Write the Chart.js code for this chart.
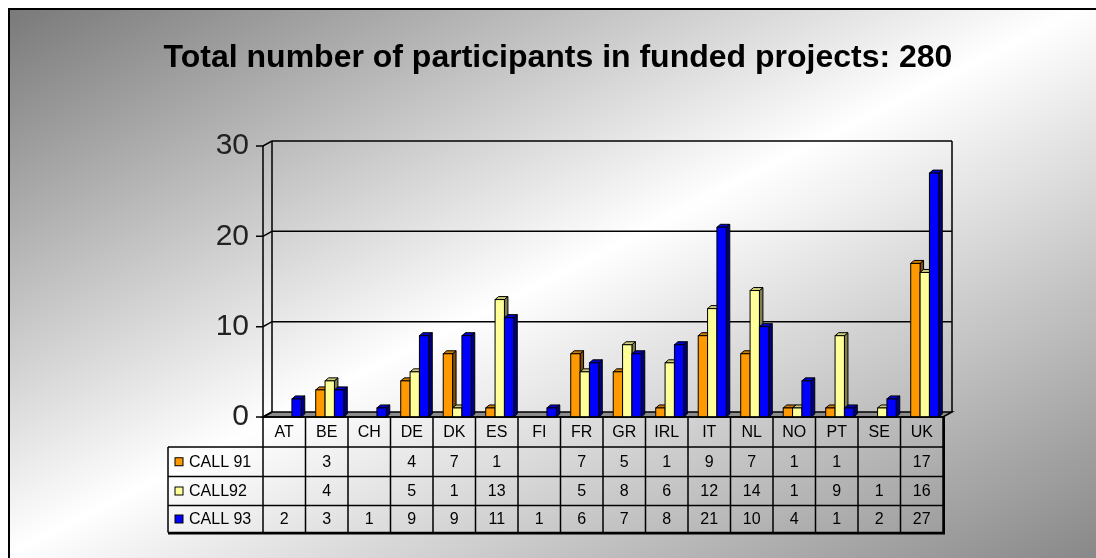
<!DOCTYPE html>
<html><head><meta charset="utf-8">
<script src="https://cdn.jsdelivr.net/npm/chart.js@4"></script>
<style>html,body{margin:0;padding:0;background:#fff;overflow:hidden}canvas{display:block}</style>
</head><body>
<canvas id="c" width="1096" height="558"></canvas>
<script>
const categories = ['AT','BE','CH','DE','DK','ES','FI','FR','GR','IRL','IT','NL','NO','PT','SE','UK'];
const call91 = [null,3,null,4,7,1,null,7,5,1,9,7,1,1,null,17];
const call92 = [null,4,null,5,1,13,null,5,8,6,12,14,1,9,1,16];
const call93 = [2,3,1,9,9,11,1,6,7,8,21,10,4,1,2,27];
const seriesLabels = ['CALL 91','CALL92','CALL 93'];
const seriesColors = ['#FF9900','#FFFF99','#0000FF'];
const titleText = 'Total number of participants in funded projects: 280';
const yMin = 0, yMax = 30, yStep = 10;

const FONT = '"Liberation Sans", Arial, sans-serif';
const SHIFT = 3;               // bars sit at mid depth of the 3D box
const DX = 9, DY = -5;         // wall depth
const BX = 3.5, BY = -3;       // bar depth
const ROWS = [30, 29.5, 29, 27]; // header + 3 data rows
const LABEL_COL_LEFT = 168;

function shade(hex, f) {
  const n = parseInt(hex.slice(1), 16);
  const r = Math.round(((n >> 16) & 255) * f), g = Math.round(((n >> 8) & 255) * f), b = Math.round((n & 255) * f);
  return `rgb(${r},${g},${b})`;
}

const bgPlugin = {
  id: 'bg',
  beforeDraw(chart) {
    const ctx = chart.ctx, W = chart.width, H = chart.height;
    ctx.save();
    ctx.fillStyle = '#fff'; ctx.fillRect(0, 0, W, H);
    const g = ctx.createLinearGradient(322, -164, 774, 722);
    g.addColorStop(0, '#767676');
    g.addColorStop(0.5, '#ffffff');
    g.addColorStop(1, '#888888');
    ctx.fillStyle = g; ctx.fillRect(9, 9, W - 9, H - 9);
    ctx.fillStyle = '#000';
    ctx.fillRect(8, 8, W - 8, 2);
    ctx.fillRect(8, 8, 2, H - 8);
    ctx.restore();
  }
};

const wallsPlugin = {
  id: 'walls',
  beforeDatasetsDraw(chart) {
    const ctx = chart.ctx, y = chart.scales.y, ca = chart.chartArea;
    const fl = ca.left - SHIFT, fr = ca.right - SHIFT;
    const y0 = y.getPixelForValue(yMin), yT = y.getPixelForValue(yMax);
    ctx.save();
    ctx.strokeStyle = '#000'; ctx.lineWidth = 1.5;
    ctx.beginPath();
    ctx.moveTo(fl, y0); ctx.lineTo(fl + DX, y0 + DY); ctx.lineTo(fr + DX, y0 + DY); ctx.lineTo(fr, y0); ctx.closePath();
    ctx.fillStyle = '#8c8c8c'; ctx.fill(); ctx.stroke();
    ctx.beginPath();
    ctx.moveTo(fl, y0); ctx.lineTo(fl, yT);
    ctx.moveTo(fl + DX, y0 + DY); ctx.lineTo(fl + DX, yT + DY);
    ctx.moveTo(fr + DX, y0 + DY); ctx.lineTo(fr + DX, yT + DY);
    ctx.stroke();
    y.ticks.forEach(t => {
      const yp = y.getPixelForValue(t.value);
      ctx.beginPath();
      ctx.moveTo(fl - 7, yp); ctx.lineTo(fl, yp);
      ctx.lineTo(fl + DX, yp + DY);
      if (t.value !== yMin) ctx.lineTo(fr + DX, yp + DY);
      ctx.stroke();
    });
    ctx.restore();
  }
};

const barsPlugin = {
  id: 'bars3d',
  afterDatasetsDraw(chart) {
    const ctx = chart.ctx;
    ctx.save();
    ctx.strokeStyle = '#000'; ctx.lineWidth = 1; ctx.lineJoin = 'miter';
    categories.forEach((c, i) => {
      chart.data.datasets.forEach((ds, d) => {
        const v = ds.data[i];
        if (v === null || v === undefined) return;
        const el = chart.getDatasetMeta(d).data[i];
        const p = el.getProps(['x', 'y', 'base', 'width'], true);
        const l = p.x - p.width / 2, r = p.x + p.width / 2, top = p.y, bot = p.base;
        const col = seriesColors[d];
        ctx.beginPath();
        ctx.moveTo(r, top); ctx.lineTo(r + BX, top + BY); ctx.lineTo(r + BX, bot + BY); ctx.lineTo(r, bot); ctx.closePath();
        ctx.fillStyle = shade(col, 0.5); ctx.fill(); ctx.stroke();
        ctx.beginPath();
        ctx.moveTo(l, top); ctx.lineTo(l + BX, top + BY); ctx.lineTo(r + BX, top + BY); ctx.lineTo(r, top); ctx.closePath();
        ctx.fillStyle = shade(col, 0.8); ctx.fill(); ctx.stroke();
        ctx.fillStyle = col;
        ctx.fillRect(l, top, r - l, bot - top);
        ctx.strokeRect(l, top, r - l, bot - top);
      });
    });
    ctx.restore();
  }
};

const tablePlugin = {
  id: 'datatable',
  afterDraw(chart) {
    const ctx = chart.ctx, x = chart.scales.x, y = chart.scales.y;
    const half = (x.getPixelForValue(1) - x.getPixelForValue(0)) / 2;
    const colL = i => x.getPixelForValue(i) - half - SHIFT;
    const n = categories.length;
    const left = colL(0), right = colL(n);
    const rowY = [y.getPixelForValue(yMin)];
    ROWS.forEach(h => rowY.push(rowY[rowY.length - 1] + h));
    const series = [call91, call92, call93];
    ctx.save();
    ctx.strokeStyle = '#000'; ctx.lineWidth = 1.5;
    ctx.beginPath();
    ctx.moveTo(left, rowY[0]); ctx.lineTo(right, rowY[0]);
    for (let r = 1; r < rowY.length; r++) { ctx.moveTo(LABEL_COL_LEFT, rowY[r]); ctx.lineTo(right, rowY[r]); }
    ctx.moveTo(LABEL_COL_LEFT, rowY[1]); ctx.lineTo(LABEL_COL_LEFT, rowY[4]);
    for (let i = 0; i <= n; i++) { ctx.moveTo(colL(i), rowY[0]); ctx.lineTo(colL(i), rowY[4]); }
    ctx.stroke();
    ctx.lineWidth = 2;
    ctx.beginPath();
    ctx.moveTo(right + 1, rowY[0]); ctx.lineTo(right + 1, rowY[4] + 1); ctx.lineTo(LABEL_COL_LEFT, rowY[4] + 1);
    ctx.stroke();

    ctx.fillStyle = '#000';
    ctx.font = `16px ${FONT}`;
    ctx.textBaseline = 'middle'; ctx.textAlign = 'center';
    categories.forEach((c, i) => {
      const cx = x.getPixelForValue(i) - SHIFT;
      ctx.fillText(c, cx, (rowY[0] + rowY[1]) / 2 + 1);
      series.forEach((s, k) => {
        if (s[i] !== null) ctx.fillText(String(s[i]), cx, (rowY[k + 1] + rowY[k + 2]) / 2 + 1);
      });
    });
    ctx.textAlign = 'left';
    seriesLabels.forEach((lab, k) => {
      const cy = (rowY[k + 1] + rowY[k + 2]) / 2;
      ctx.fillStyle = seriesColors[k];
      ctx.fillRect(175, cy - 4, 8, 8);
      ctx.lineWidth = 1; ctx.strokeRect(175, cy - 4, 8, 8);
      ctx.fillStyle = '#000';
      ctx.fillText(lab, 189, cy + 1);
    });
    ctx.restore();
  }
};

const transparent = 'rgba(0,0,0,0)';
new Chart(document.getElementById('c'), {
  type: 'bar',
  data: {
    labels: categories,
    datasets: [
      { label: seriesLabels[0], data: call91, backgroundColor: transparent, borderWidth: 0 },
      { label: seriesLabels[1], data: call92, backgroundColor: transparent, borderWidth: 0 },
      { label: seriesLabels[2], data: call93, backgroundColor: transparent, borderWidth: 0 }
    ]
  },
  options: {
    responsive: false,
    animation: false,
    events: [],
    devicePixelRatio: 1,
    categoryPercentage: 0.66,
    barPercentage: 1.0,
    layout: { padding: { left: 20, right: 0, top: 0, bottom: 141 } },
    plugins: {
      legend: { display: false },
      tooltip: { enabled: false },
      title: {
        display: true, text: titleText, color: '#000',
        font: { family: FONT, size: 32, weight: 'bold', lineHeight: 1.2 },
        padding: { top: 38.8, bottom: 68.8 }
      }
    },
    scales: {
      x: { display: false },
      y: {
        position: 'left', min: yMin, max: yMax,
        grid: { display: false, drawTicks: true, tickLength: 8 },
        border: { display: false },
        ticks: { stepSize: yStep, color: '#222', padding: 9, font: { family: FONT, size: 30 } },
        afterFit(s) { s.width = 246; }
      },
      y2: {
        position: 'right', display: true,
        grid: { display: false }, border: { display: false },
        ticks: { display: false },
        afterFit(s) { s.width = 150; }
      }
    }
  },
  plugins: [bgPlugin, wallsPlugin, barsPlugin, tablePlugin]
});
</script>
</body></html>
